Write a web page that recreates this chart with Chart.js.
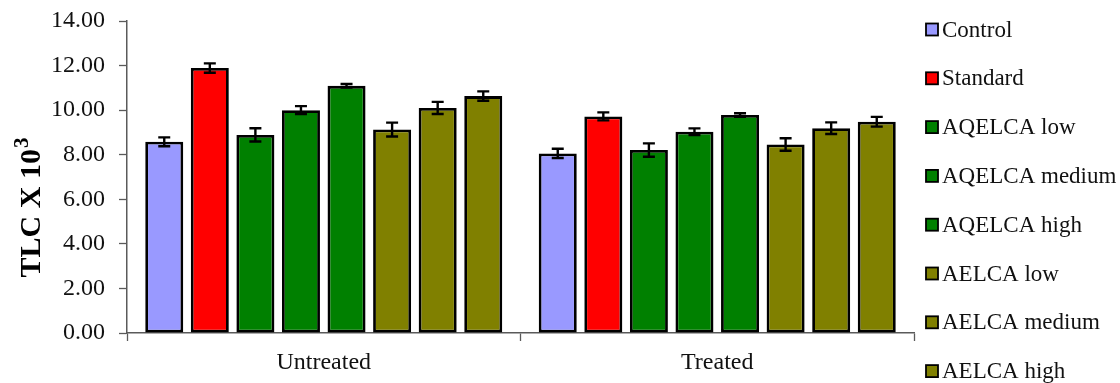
<!DOCTYPE html>
<html>
<head>
<meta charset="utf-8">
<script src="https://cdn.jsdelivr.net/npm/chart.js@4/dist/chart.umd.min.js"></script>
<style>
  html, body { margin: 0; padding: 0; background: #fff; }
</style>
</head>
<body>
<canvas id="c" width="1120" height="383"></canvas>
<script>
// Groups along the x axis
const groups = ['Untreated', 'Treated'];

// Series names (legend order)
const seriesNames = ['Control', 'Standard', 'AQELCA low', 'AQELCA medium', 'AQELCA high',
                     'AELCA low', 'AELCA medium', 'AELCA high'];

// Mean TLC (x 10^3) per group
const control   = [8.58, 8.06];
const standard  = [11.89, 9.72];
const aqLow     = [8.89, 8.21];
const aqMedium  = [10.00, 9.03];
const aqHigh    = [11.09, 9.78];
const aeLow     = [9.13, 8.46];
const aeMedium  = [10.10, 9.19];
const aeHigh    = [10.63, 9.48];

// Standard error per group
const controlErr  = [0.20, 0.21];
const standardErr = [0.21, 0.18];
const aqLowErr    = [0.30, 0.30];
const aqMediumErr = [0.18, 0.15];
const aqHighErr   = [0.08, 0.08];
const aeLowErr    = [0.31, 0.28];
const aeMediumErr = [0.27, 0.26];
const aeHighErr   = [0.21, 0.22];

// Fill colours per series
const seriesColors = ['#9999FF', '#FF0000', '#008000', '#008000', '#008000',
                      '#808000', '#808000', '#808000'];

// Y axis tick values
const yTicks = [0, 2, 4, 6, 8, 10, 12, 14];

const seriesValues = [control, standard, aqLow, aqMedium, aqHigh, aeLow, aeMedium, aeHigh];
const seriesErrors = [controlErr, standardErr, aqLowErr, aqMediumErr, aqHighErr, aeLowErr, aeMediumErr, aeHighErr];

const FONT = "'Liberation Serif', 'Times New Roman', serif";
const AXIS_COLOR = '#5a5a5a';

const datasets = seriesNames.map((name, i) => ({
  label: name,
  data: seriesValues[i],
  errors: seriesErrors[i],
  backgroundColor: seriesColors[i],
  borderColor: '#000',
  borderWidth: 2.8,
  borderSkipped: false,
  categoryPercentage: 0.9265,
  barPercentage: 0.834
}));

// Error bars: vertical whisker with caps at mean ± error
const errorBars = {
  id: 'errorBars',
  afterDatasetsDraw(chart) {
    const ctx = chart.ctx;
    const y = chart.scales.y;
    ctx.save();
    ctx.strokeStyle = '#000';
    ctx.lineWidth = 2.4;
    chart.data.datasets.forEach((ds, di) => {
      const meta = chart.getDatasetMeta(di);
      meta.data.forEach((bar, j) => {
        const v = ds.data[j], e = ds.errors[j];
        const yTop = y.getPixelForValue(v + e);
        const yBot = y.getPixelForValue(v - e);
        const x = bar.x, cap = 6;
        ctx.beginPath();
        ctx.moveTo(x, yTop); ctx.lineTo(x, yBot);
        ctx.moveTo(x - cap, yTop); ctx.lineTo(x + cap, yTop);
        ctx.moveTo(x - cap, yBot); ctx.lineTo(x + cap, yBot);
        ctx.stroke();
      });
    });
    ctx.restore();
  }
};

// Y axis title with superscript exponent
const yTitle = {
  id: 'yTitle',
  afterDraw(chart) {
    const ctx = chart.ctx;
    ctx.save();
    ctx.translate(30, 208);
    ctx.rotate(-Math.PI / 2);
    ctx.fillStyle = '#000';
    ctx.textBaseline = 'middle';
    const main = 'TLC X 10';
    ctx.font = 'bold 30px ' + FONT;
    const wMain = ctx.measureText(main).width;
    ctx.font = 'bold 21px ' + FONT;
    const wSup = ctx.measureText('3').width;
    const start = -(wMain + wSup) / 2;
    ctx.font = 'bold 30px ' + FONT;
    ctx.textAlign = 'left';
    ctx.fillText(main, start, 2);
    ctx.font = 'bold 21px ' + FONT;
    ctx.fillText('3', start + wMain + 1, -7);
    ctx.restore();
  }
};

// Legend stacked down the right edge
const sideLegend = {
  id: 'sideLegend',
  afterDraw(chart) {
    const ctx = chart.ctx;
    ctx.save();
    ctx.font = '23px ' + FONT;
    ctx.textBaseline = 'middle';
    ctx.textAlign = 'left';
    chart.data.datasets.forEach((ds, i) => {
      const cy = 29.5 + i * 48.8;
      ctx.fillStyle = ds.backgroundColor;
      ctx.fillRect(926, cy - 6, 12, 12);
      ctx.strokeStyle = '#000';
      ctx.lineWidth = 1.8;
      ctx.strokeRect(926, cy - 6, 12, 12);
      ctx.fillStyle = '#111';
      ctx.fillText(ds.label, 942, cy + 1);
    });
    ctx.restore();
  }
};

new Chart(document.getElementById('c'), {
  type: 'bar',
  data: { labels: groups, datasets },
  options: {
    responsive: false,
    devicePixelRatio: 1,
    animation: false,
    layout: { padding: { top: 21, right: 206, bottom: 0, left: 0 } },
    plugins: {
      legend: { display: false },
      tooltip: { enabled: false }
    },
    scales: {
      x: {
        afterFit(s) { s.height = 50; s.paddingLeft = 0; s.paddingRight = 0; },
        grid: {
          display: true,
          offset: true,
          drawOnChartArea: false,
          drawTicks: true,
          tickLength: 8,
          color: AXIS_COLOR,
          tickWidth: 1.3
        },
        border: { display: true, color: AXIS_COLOR, width: 1.5 },
        ticks: {
          color: '#111',
          font: { family: FONT, size: 24 },
          padding: 7
        }
      },
      y: {
        min: 0,
        max: 14,
        afterFit(s) { s.width = 127; s.paddingTop = 0; s.paddingBottom = 0; },
        afterBuildTicks(s) { s.ticks = yTicks.map(v => ({ value: v })); },
        grid: {
          display: true,
          drawOnChartArea: false,
          drawTicks: true,
          tickLength: 8,
          color: AXIS_COLOR,
          tickWidth: 1.3
        },
        border: { display: true, color: AXIS_COLOR, width: 1.5 },
        ticks: {
          color: '#111',
          font: { family: FONT, size: 24 },
          padding: 14,
          callback: v => Number(v).toFixed(2)
        }
      }
    }
  },
  plugins: [errorBars, yTitle, sideLegend]
});
</script>
</body>
</html>
